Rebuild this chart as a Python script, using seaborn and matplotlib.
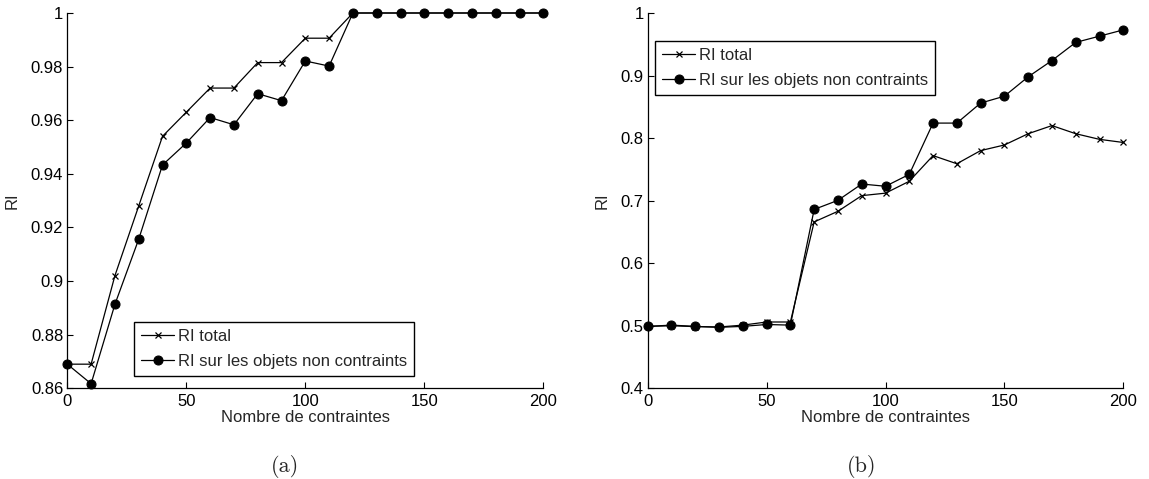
import numpy as np
import pandas as pd
import matplotlib
matplotlib.use("Agg")
import matplotlib.pyplot as plt
import seaborn as sns

# ---- data ----
n_contraintes = [0, 10, 20, 30, 40, 50, 60, 70, 80, 90, 100,
                 110, 120, 130, 140, 150, 160, 170, 180, 190, 200]

a_ri_total = [0.869, 0.869, 0.902, 0.928, 0.954, 0.963, 0.972, 0.972, 0.9815, 0.9815, 0.9906,
              0.9906, 1.0, 1.0, 1.0, 1.0, 1.0, 1.0, 1.0, 1.0, 1.0]
a_ri_libres = [0.869, 0.8617, 0.8913, 0.9156, 0.9433, 0.9515, 0.961, 0.9583, 0.9699, 0.9673, 0.9821,
               0.9802, 1.0, 1.0, 1.0, 1.0, 1.0, 1.0, 1.0, 1.0, 1.0]

b_ri_total = [0.499, 0.500, 0.4986, 0.498, 0.501, 0.506, 0.506, 0.666, 0.683, 0.708, 0.712,
              0.731, 0.772, 0.759, 0.780, 0.789, 0.807, 0.820, 0.807, 0.798, 0.793]
b_ri_libres = [0.499, 0.501, 0.499, 0.4975, 0.499, 0.502, 0.501, 0.686, 0.7005, 0.7266, 0.723,
               0.742, 0.824, 0.824, 0.856, 0.867, 0.898, 0.924, 0.953, 0.963, 0.973]

label_total = "RI total"
label_libres = "RI sur les objets non contraints"
xlabel = "Nombre de contraintes"
ylabel = "RI"
a_yticks = [0.86, 0.88, 0.9, 0.92, 0.94, 0.96, 0.98, 1.0]
b_yticks = [0.4, 0.5, 0.6, 0.7, 0.8, 0.9, 1.0]
xticks = [0, 50, 100, 150, 200]
captions = ["(a)", "(b)"]

# ---- style ----
sns.set_style("white")
plt.rcParams["font.family"] = ["Liberation Sans", "DejaVu Sans"]
plt.rcParams["font.size"] = 12

W, H = 1149, 479
fig = plt.figure(figsize=(W / 100, H / 100), dpi=100)

ax_a = fig.add_axes([67.3 / W, (H - 388.3) / H, 476 / W, 375.3 / H])
ax_b = fig.add_axes([647.7 / W, (H - 388.3) / H, 475.6 / W, 375.3 / H])


def draw(ax, total, libres, ylim, yticks, legend_kw):
    df_t = pd.DataFrame({"x": n_contraintes, "y": total})
    df_l = pd.DataFrame({"x": n_contraintes, "y": libres})
    sns.lineplot(data=df_t, x="x", y="y", ax=ax, color="black", linewidth=0.9,
                 marker="x", markersize=4.5, markeredgewidth=0.9,
                 markeredgecolor="black", markerfacecolor="black", label=label_total)
    sns.lineplot(data=df_l, x="x", y="y", ax=ax, color="black", linewidth=0.9,
                 marker="o", markersize=6.5, markeredgecolor="black", markerfacecolor="black",
                 label=label_libres)
    ax.set_xlim(0, 200)
    ax.set_ylim(*ylim)
    ax.set_xticks(xticks)
    ax.set_yticks(yticks)
    ax.set_yticklabels([f"{v:g}" for v in yticks])
    ax.set_xticklabels([f"{v:g}" for v in xticks])
    ax.tick_params(axis="x", direction="in", length=4, width=0.8, colors="black",
                   labelsize=12, pad=4, bottom=True)
    ax.tick_params(axis="y", direction="in", length=4, width=0.8, colors="black",
                   labelsize=12, pad=3, left=True)
    for s in ["top", "right"]:
        ax.spines[s].set_visible(False)
    for s in ["left", "bottom"]:
        ax.spines[s].set_color("black")
        ax.spines[s].set_linewidth(0.9)
    ax.set_xlabel(xlabel, fontsize=12, labelpad=1)
    ax.set_ylabel(ylabel, fontsize=12, labelpad=8)
    for l in ax.lines:
        l.set_clip_on(False)
    leg = ax.legend(frameon=True, fancybox=False, edgecolor="black", framealpha=1,
                    fontsize=12, handlelength=2.0, handletextpad=0.2, borderpad=0.42,
                    labelspacing=0.58, borderaxespad=0, **legend_kw)
    leg.get_frame().set_linewidth(1.0)
    return ax


draw(ax_a, a_ri_total, a_ri_libres, (0.86, 1.0), a_yticks,
     dict(loc="lower left", bbox_to_anchor=(0.140, 0.034)))
draw(ax_b, b_ri_total, b_ri_libres, (0.4, 1.0), b_yticks,
     dict(loc="upper left", bbox_to_anchor=(0.015, 0.925)))

fig.text(285 / W, 1 - 466 / H, captions[0], ha="center", va="center",
         fontsize=16, family=["cmr10", "DejaVu Serif"])
fig.text(862 / W, 1 - 466 / H, captions[1], ha="center", va="center",
         fontsize=16, family=["cmr10", "DejaVu Serif"])

fig.savefig("out.png", dpi=100, facecolor="white")
